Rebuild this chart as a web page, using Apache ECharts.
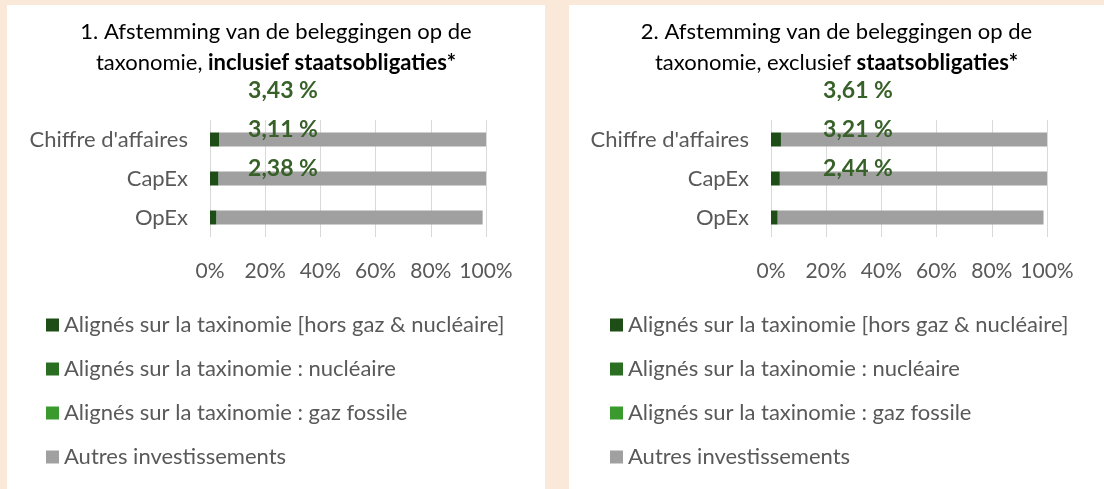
<!DOCTYPE html>
<html>
<head>
<meta charset="utf-8">
<script src="https://cdn.jsdelivr.net/npm/echarts@6/dist/echarts.min.js"></script>
<style>
  html, body { margin: 0; padding: 0; background: #FAE8D8; }
  body { width: 1104px; height: 489px; position: relative; overflow: hidden; }
  .panel { position: absolute; top: 5px; height: 484px; background: #fff; }
  #chart1 { left: 7px; width: 538px; }
  #chart2 { left: 569px; width: 535px; }
</style>
</head>
<body>
<div id="chart1" class="panel"></div>
<div id="chart2" class="panel"></div>
<script>
// categories (top to bottom in the picture)
const categories = ["Chiffre d'affaires", 'CapEx', 'OpEx']
const seriesNames = [
  'Alignés sur la taxinomie [hors gaz & nucléaire]',
  'Alignés sur la taxinomie : nucléaire',
  'Alignés sur la taxinomie : gaz fossile',
  'Autres investissements'
]
const seriesColors = ['#1E4D17', '#2A6E22', '#3A9A2D', '#A0A0A0']
const xTicks = [0, 20, 40, 60, 80, 100]

// panel 1 : inclusief staatsobligaties
const aligned1 = [3.43, 3.11, 2.38]
const nuclear1 = [0, 0, 0]
const gas1 = [0, 0, 0]
const other1 = [97.1, 96.89, 96.4]

// panel 2 : exclusief staatsobligaties
const aligned2 = [3.61, 3.21, 2.44]
const nuclear2 = [0, 0, 0]
const gas2 = [0, 0, 0]
const other2 = [96.9, 96.79, 96.3]

const FONT = 'Lato'

const buildChart = (el, cfg) => {
  const myChart = echarts.init(el)
  const data = [cfg.aligned, cfg.nuclear, cfg.gas, cfg.other]
  const series = seriesNames.map((name, i) => {
    const s = {
      name: name,
      type: 'bar',
      stack: 'tot',
      barWidth: 14,
      itemStyle: { color: seriesColors[i] },
      data: data[i]
    }
    if (i === 0) {
      // labels sit above the bars, like in the original
      s.label = {
        show: true,
        position: [cfg.labelDx, -42],
        align: 'center',
        verticalAlign: 'middle',
        color: '#38612A',
        fontFamily: FONT,
        fontWeight: 'bold',
        fontSize: 23,
        formatter: p => String(p.value).replace('.', ',') + ' %'
      }
    }
    return s
  })

  const option = {
    animation: false,
    textStyle: { fontFamily: FONT },
    title: {
      left: 'center',
      top: 6,
      text: cfg.title,
      textStyle: {
        fontFamily: FONT,
        fontSize: 22,
        fontWeight: 'normal',
        color: '#000',
        lineHeight: 31,
        rich: {
          n: { fontFamily: FONT, fontSize: 22, color: '#000', lineHeight: 31 },
          b: { fontFamily: FONT, fontSize: 22, color: '#000', lineHeight: 31, fontWeight: 'bold' }
        }
      }
    },
    legend: {
      orient: 'vertical',
      left: cfg.legendLeft,
      top: 304,
      itemWidth: 13,
      itemHeight: 13,
      itemGap: 22,
      icon: 'rect',
      selectedMode: false,
      textStyle: { fontFamily: FONT, fontSize: 22, color: '#595959', lineHeight: 22 },
      data: seriesNames
    },
    grid: {
      left: cfg.gridLeft,
      right: cfg.gridRight,
      top: 115,
      height: 117
    },
    xAxis: {
      type: 'value',
      min: 0,
      max: 100,
      interval: 20,
      axisLine: { show: false },
      axisTick: { show: false },
      splitLine: { lineStyle: { color: '#D9D9D9', width: 1 } },
      axisLabel: {
        margin: 24,
        fontFamily: FONT,
        fontSize: 21,
        color: '#595959',
        formatter: v => (xTicks.indexOf(v) >= 0 ? v + '%' : '')
      }
    },
    yAxis: {
      type: 'category',
      inverse: true,
      data: categories,
      axisLine: { show: false },
      axisTick: { show: false },
      axisLabel: { margin: 22, fontFamily: FONT, fontSize: 22, color: '#595959' }
    },
    series: series
  }
  myChart.setOption(option, true)
  return myChart
}

buildChart(document.getElementById('chart1'), {
  title: '{n|1. Afstemming van de beleggingen op de}\n{n|taxonomie, }{b|inclusief staatsobligaties*}',
  aligned: aligned1, nuclear: nuclear1, gas: gas1, other: other1,
  gridLeft: 203, gridRight: 59, legendLeft: 34, labelDx: 73
})
buildChart(document.getElementById('chart2'), {
  title: '{n|2. Afstemming van de beleggingen op de}\n{n|taxonomie, exclusief }{b|staatsobligaties*}',
  aligned: aligned2, nuclear: nuclear2, gas: gas2, other: other2,
  gridLeft: 202, gridRight: 57, legendLeft: 36, labelDx: 87
})
</script>
</body>
</html>
